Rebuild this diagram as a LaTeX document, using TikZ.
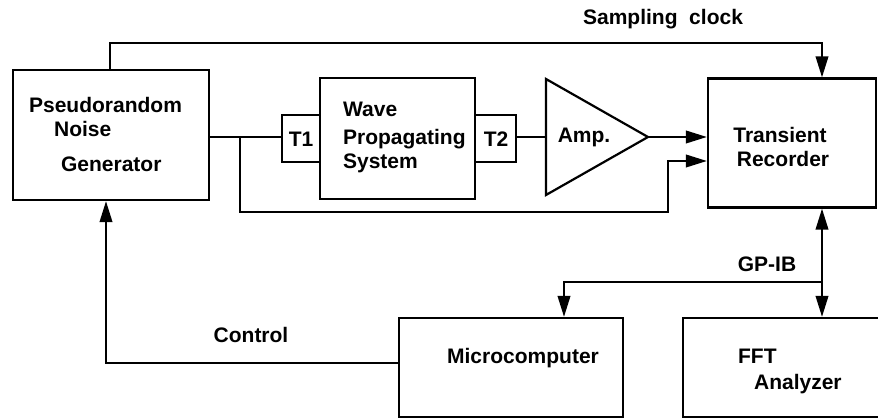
\documentclass[tikz,border=0pt]{standalone}
\usepackage{fontspec}
\setmainfont{Liberation Sans}
\usetikzlibrary{arrows.meta}
\begin{document}
\begin{tikzpicture}[x=1pt,y=-1pt,
  line width=2.2pt,
  box/.style={draw, rectangle, inner sep=0pt},
  lbl/.style={font=\fontsize{21}{24}\selectfont\bfseries, inner sep=0pt},
  arr/.style={-{Triangle[length=21pt,width=12.5pt]}},
  darr/.style={{Triangle[length=21pt,width=12.5pt]}-{Triangle[length=21pt,width=12.5pt]}},
]
\useasboundingbox (0,0) rectangle (878,419);
\clip (0,0) rectangle (878,419);
% boxes
\node[box, minimum width=196pt, minimum height=130pt] (prng) at (111,135) {};
\node[box, minimum width=38pt, minimum height=47pt] (t1) at (301,138.5) {};
\node[box, minimum width=155pt, minimum height=121pt] (wave) at (397.5,138.5) {};
\node[box, minimum width=41pt, minimum height=47pt] (t2) at (495.5,138.5) {};
\node[box, minimum width=168pt, minimum height=129pt] (tr) at (792,143) {};
\node[box, minimum width=224pt, minimum height=99pt] (mc) at (511,367.5) {};
\node[box, minimum width=230pt, minimum height=99pt] (fft) at (798,367.5) {};
% amplifier
\coordinate (amptop) at (546,79);
\coordinate (ampbot) at (546,195);
\coordinate (ampout) at (648,137);
\coordinate (ampin) at (546,137);
\draw[line join=miter] (amptop) -- (ampout) -- (ampbot) -- cycle;
% texts
\node[lbl, anchor=base] (tclk) at (663,25) {Sampling\ \ clock};
\node[lbl, anchor=base west] (tp1) at (28,113) {Pseudorandom};
\node[lbl, anchor=base west] (tp2) at (53,137) {Noise};
\node[lbl, anchor=base west] (tp3) at (60,172) {Generator};
\node[lbl, anchor=base west] (tw1) at (342,117) {Wave};
\node[lbl, anchor=base west] (tw2) at (342,145) {Propagating};
\node[lbl, anchor=base west] (tw3) at (342,169) {System};
\node[lbl, anchor=base] (tt1) at (301,147) {T1};
\node[lbl, anchor=base] (tt2) at (496,147) {T2};
\node[lbl, anchor=base] (tamp) at (584,143) {Amp.};
\node[lbl, anchor=base] (tr1) at (780,143) {Transient};
\node[lbl, anchor=base] (tr2) at (783,167) {Recorder};
\node[lbl, anchor=base] (tctl) at (251,343) {Control};
\node[lbl, anchor=base] (tmc) at (523,363) {Microcomputer};
\node[lbl, anchor=base west] (tf1) at (737,363) {FFT};
\node[lbl, anchor=base west] (tf2) at (753,390) {Analyzer};
\node[lbl, anchor=base] (tgp) at (767,272) {GP-IB};
% connectors
\coordinate (clkL) at (110,43);
\coordinate (clkR) at (822,43);
\draw[arr] (clkL |- prng.north) -- (clkL) -- (clkR) -- (clkR |- tr.north);
\draw (prng.east |- ampout) -- (t1.west |- ampout);
\draw (t2.east |- ampout) -- (ampin);
\draw[arr] (ampout) -- (tr.west |- ampout);
\coordinate (brTop) at (240,137);
\coordinate (brBot) at (240,212);
\coordinate (brR) at (668,212);
\coordinate (y162) at (0,161);
\draw[arr] (brTop) -- (brBot) -- (brR) -- (brR |- y162) -- (tr.west |- y162);
\coordinate (ctl) at (106,363);
\draw[arr] (mc.west |- ctl) -- (ctl) -- (ctl |- prng.south);
\coordinate (gp) at (822,282);
\coordinate (gpL) at (564,282);
\draw[darr] (gp |- tr.south) -- (gp |- fft.north);
\draw[arr] (gp) -- (gpL) -- (gpL |- mc.north);
\end{tikzpicture}
\end{document}
